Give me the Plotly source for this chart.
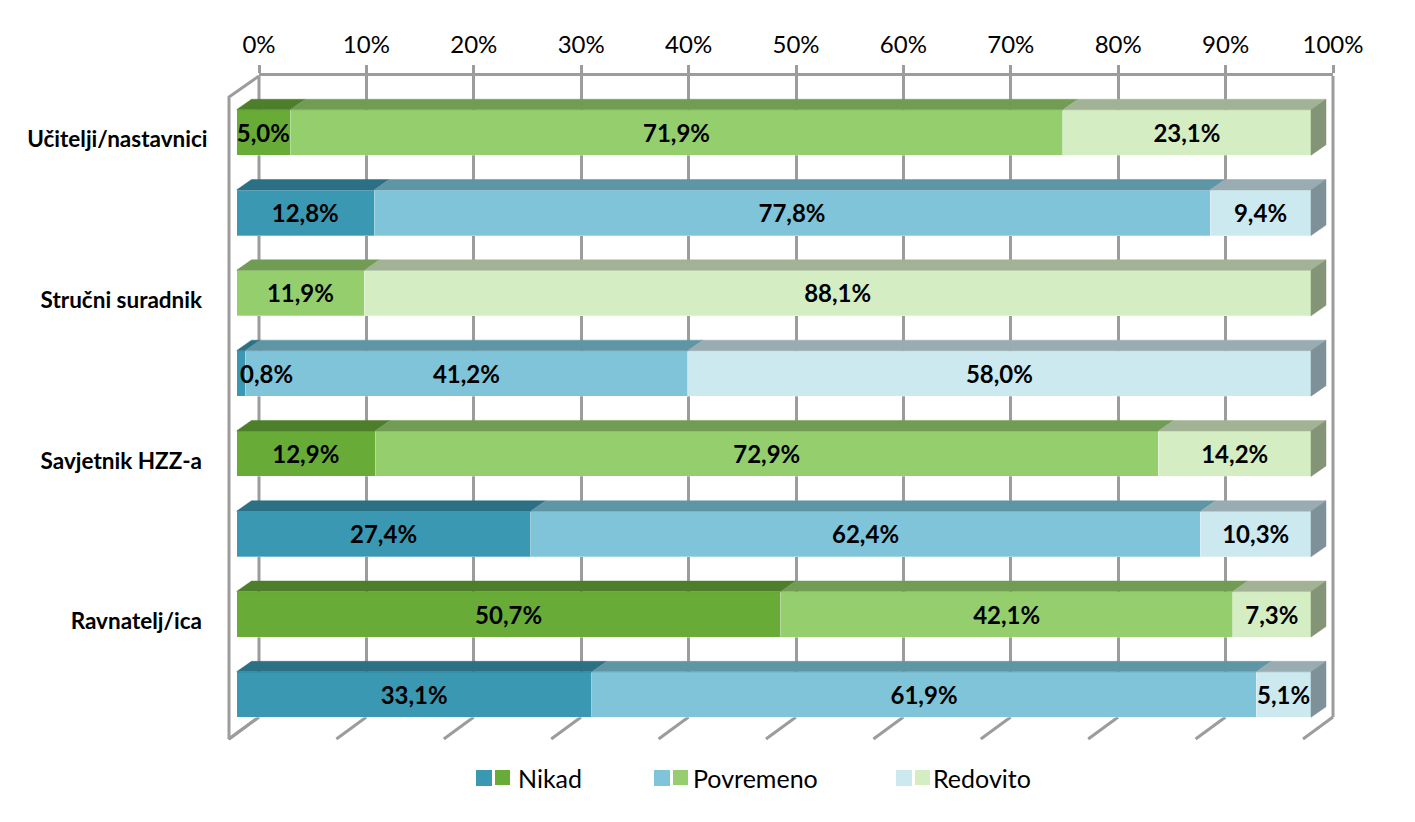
import plotly.graph_objects as go

# the page body has an 8px margin, positions below are window pixels
W, H = 1399, 806
BODY = 8

rows = list(range(8))
group_labels = ["Učitelji/nastavnici", "Stručni suradnik\u00a0", "Savjetnik HZZ-a\u00a0", "Ravnatelj/ica\u00a0"]
group_rows = [0, 2, 4, 6]
series_names = ["Nikad", "Povremeno", "Redovito"]
nikad = [5.0, 12.8, 0, 0.8, 12.9, 27.4, 50.7, 33.1]
povremeno = [71.9, 77.8, 11.9, 41.2, 72.9, 62.4, 42.1, 61.9]
redovito = [23.1, 9.4, 88.1, 58.0, 14.2, 10.3, 7.3, 5.1]
percent_ticks = [0, 10, 20, 30, 40, 50, 60, 70, 80, 90, 100]

# colours per series: (green rows, blue rows)
front_colors = [("#68AC37", "#3A98B3"), ("#94CE6D", "#7FC4D9"), ("#D5EDC3", "#CCE9F0")]
top_colors = [("#4D7F2A", "#2B7085"), ("#709D53", "#5F96A6"), ("#A1B394", "#98ACB2")]
side_colors = ("#849476", "#7F9198")
GRID = "#9C9C9C"
FONT = "Lato"

BAR = 45.5 / 80.3
DX, DY = 15 / 10.745, 10.5 / 80.3   # bar depth, front axis units
WALL_DX, WALL_TOP, WALL_BOT = 30 / 10.74, 21 / 641, 22 / 641


def px_x(p):
    return (p - BODY) / W


def px_y(p):
    return 1 - (p - BODY) / H


values = [nikad, povremeno, redovito]
totals = [sum(v[r] for v in values) for r in rows]

fig = go.Figure()

# side wall and floor lines, on a hidden axis pair a bit larger than the back wall
wall_x, wall_y = [0, -WALL_DX, -WALL_DX, 0, None], [1, 1 - WALL_TOP, -WALL_BOT, 0, None]
for t in percent_ticks:
    wall_x += [t, t - WALL_DX, None]
    wall_y += [0, -WALL_BOT, None]
# plotly leaves out the grid lines on the axis ends
for t in (percent_ticks[0], percent_ticks[-1]):
    wall_x += [t, t, None]
    wall_y += [0, 1, None]
fig.add_trace(go.Scatter(x=wall_x, y=wall_y, mode="lines", xaxis="x", yaxis="y",
                         line=dict(color=GRID, width=3), hoverinfo="skip"))

# back wall axis only carries ticks and grid
fig.add_trace(go.Scatter(x=[0, 100], y=[0, 1], mode="none", xaxis="x2", yaxis="y2", hoverinfo="skip"))

# front faces
for s, name in enumerate(series_names):
    fig.add_trace(go.Bar(
        x=values[s], y=rows, name=name, orientation="h", xaxis="x3", yaxis="y3", width=BAR,
        marker=dict(color=[front_colors[s][r % 2] for r in rows],
                    line=dict(color="rgba(255,255,255,0.3)", width=1)),
    ))


def add_faces(xs, ys, color):
    fig.add_trace(go.Scatter(x=xs, y=ys, mode="lines", fill="toself", fillcolor=color, xaxis="x3", yaxis="y3",
                             line=dict(color=color, width=0.5), hoverinfo="skip"))


# top faces, one trace per colour
label_x, label_y, label_text = [], [], []
for s in range(3):
    for tone in range(2):
        xs, ys = [], []
        for r in rows:
            if r % 2 != tone or values[s][r] == 0:
                continue
            start = sum(values[k][r] for k in range(s)) * 100 / totals[r]
            end = start + values[s][r] * 100 / totals[r]
            top = r - BAR / 2
            xs += [start, end, end + DX, start + DX, start, None]
            ys += [top, top, top - DY, top - DY, top, None]
            mid = (start + end) / 2
            if values[s][r] < 2:
                mid += 2.4  # label does not fit in the sliver, pushed to the right
            label_x.append(mid)
            label_y.append(r + 0.04)
            label_text.append(f"{values[s][r]:.1f}%".replace(".", ","))
        add_faces(xs, ys, top_colors[s][tone])

# right side faces
for tone in range(2):
    xs, ys = [], []
    for r in rows:
        if r % 2 == tone:
            top, bot = r - BAR / 2, r + BAR / 2
            xs += [100, 100 + DX, 100 + DX, 100, 100, None]
            ys += [top, top - DY, bot - DY, bot, top, None]
    add_faces(xs, ys, side_colors[tone])

fig.add_trace(go.Scatter(x=label_x, y=label_y, text=label_text, mode="text", xaxis="x3", yaxis="y3", cliponaxis=False,
                         textposition="middle center",
                         textfont=dict(family=FONT, size=24, color="#000000", weight="bold"),
                         hoverinfo="skip"))

# legend with a blue and a green swatch per series
legend_blue = [476, 654, 896]
legend_text_x = [516, 691, 931]
shapes, annotations = [], []
for s, name in enumerate(series_names):
    x0 = legend_blue[s]
    shapes.append(dict(type="rect", xref="paper", yref="paper", x0=px_x(x0), x1=px_x(x0 + 16),
                       y0=px_y(786), y1=px_y(770), fillcolor=front_colors[s][1], line_width=0))
    shapes.append(dict(type="rect", xref="paper", yref="paper", x0=px_x(x0 + 19), x1=px_x(x0 + 34),
                       y0=px_y(785), y1=px_y(770), fillcolor=front_colors[s][0], line_width=0))
    annotations.append(dict(text=name, xref="paper", yref="paper", x=px_x(legend_text_x[s]), y=px_y(778),
                            xanchor="left", yanchor="middle", showarrow=False,
                            font=dict(family=FONT, size=25, color="#000000")))

fig.update_layout(
    width=W, height=H, margin=dict(l=0, r=0, t=0, b=0), showlegend=False, barmode="stack", barnorm="percent",
    paper_bgcolor="#FFFFFF", plot_bgcolor="rgba(0,0,0,0)", font=dict(family=FONT, color="#000000"),
    shapes=shapes, annotations=annotations,
    xaxis=dict(domain=[px_x(225), px_x(1337)], range=[-34 / 10.74, 100 + 4 / 10.74],
               anchor="y", visible=False, automargin=False),
    yaxis=dict(domain=[px_y(745), px_y(72)], range=[-28 / 641, 1 + 4 / 641], anchor="x", visible=False,
               automargin=False),
    xaxis2=dict(domain=[px_x(259), px_x(1333)], range=[0, 100], side="top", anchor="y2", tickvals=percent_ticks,
                ticktext=[f"{t}%" for t in percent_ticks], ticks="outside", ticklen=8, tickwidth=3, tickcolor=GRID,
                ticklabelstandoff=2, showgrid=True, gridcolor=GRID, gridwidth=3, showline=True, linecolor=GRID,
                linewidth=3, zeroline=False, automargin=False, tickfont=dict(family=FONT, size=24, color="#000000")),
    yaxis2=dict(domain=[px_y(717), px_y(76)], range=[0, 1], anchor="x2", visible=False, automargin=False),
    xaxis3=dict(domain=[px_x(236.5), px_x(236.5 + 102 * 10.745)], range=[0, 102], anchor="y3", visible=False,
                automargin=False),
    yaxis3=dict(domain=[px_y(734.75), px_y(92.35)], range=[7.5, -0.5], anchor="x3", tickvals=group_rows,
                ticktext=group_labels, ticks="", showgrid=False, showline=False, zeroline=False, automargin=False,
                ticklabelstandoff=28, ticklabelshift=-7,
                tickfont=dict(family=FONT, size=22.5, color="#000000", weight="bold")),
)

fig.write_html("out.html")
